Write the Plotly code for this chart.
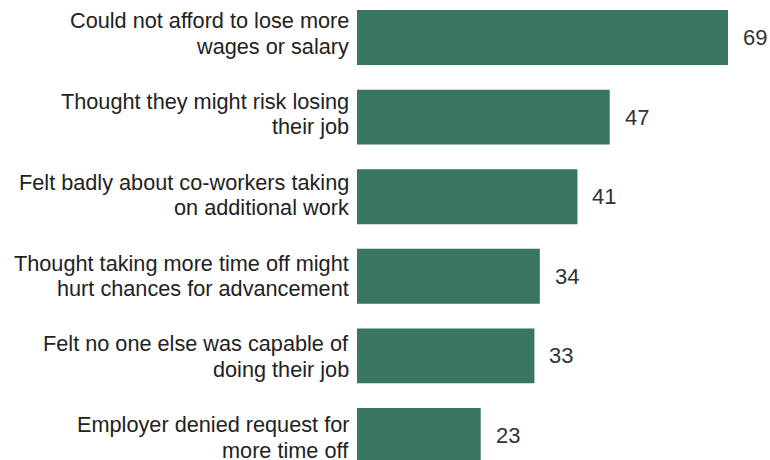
import plotly.graph_objects as go

categories = [
    "Could not afford to lose more<br>wages or salary",
    "Thought they might risk losing<br>their job",
    "Felt badly about co-workers taking<br>on additional work",
    "Thought taking more time off might<br>hurt chances for advancement",
    "Felt no one else was capable of<br>doing their job",
    "Employer denied request for<br>more time off",
]
values = [69, 47, 41, 34, 33, 23]

BAR_COLOR = "#387563"
FONT = "Liberation Sans, Arial, sans-serif"

fig = go.Figure()
fig.add_trace(go.Bar(
    x=values,
    y=categories,
    orientation="h",
    marker=dict(color=BAR_COLOR, line=dict(width=0)),
    width=0.69,
    hoverinfo="skip",
))

# value labels
for v, c in zip(values, categories):
    fig.add_annotation(
        x=v, y=c, text=str(v), showarrow=False,
        xanchor="left", yanchor="middle", xshift=13,
        font=dict(family=FONT, size=22, color="#333333"),
    )

# category labels, one annotation per line for tight line spacing
line_shifts = [16.8, -8.6]
for i, c in enumerate(categories):
    drift = -1.2 * i
    for line, ys in zip(c.split("<br>"), line_shifts):
        fig.add_annotation(
            xref="paper", x=0, y=c, text=line, showarrow=False,
            xanchor="right", yanchor="middle", xshift=-6, yshift=ys + drift,
            font=dict(family=FONT, size=21.7, color="#222222"),
        )

fig.update_layout(
    width=770, height=460,
    margin=dict(l=357, r=10, t=0, b=0),
    paper_bgcolor="white", plot_bgcolor="white",
    showlegend=False,
    xaxis=dict(range=[0, 74.95], visible=False, fixedrange=True),
    yaxis=dict(
        type="category",
        range=[5.308, -0.471],
        showgrid=False, zeroline=False, showline=False,
        ticks="", showticklabels=False,
        fixedrange=True,
    ),
)

fig.write_html("out.html")
